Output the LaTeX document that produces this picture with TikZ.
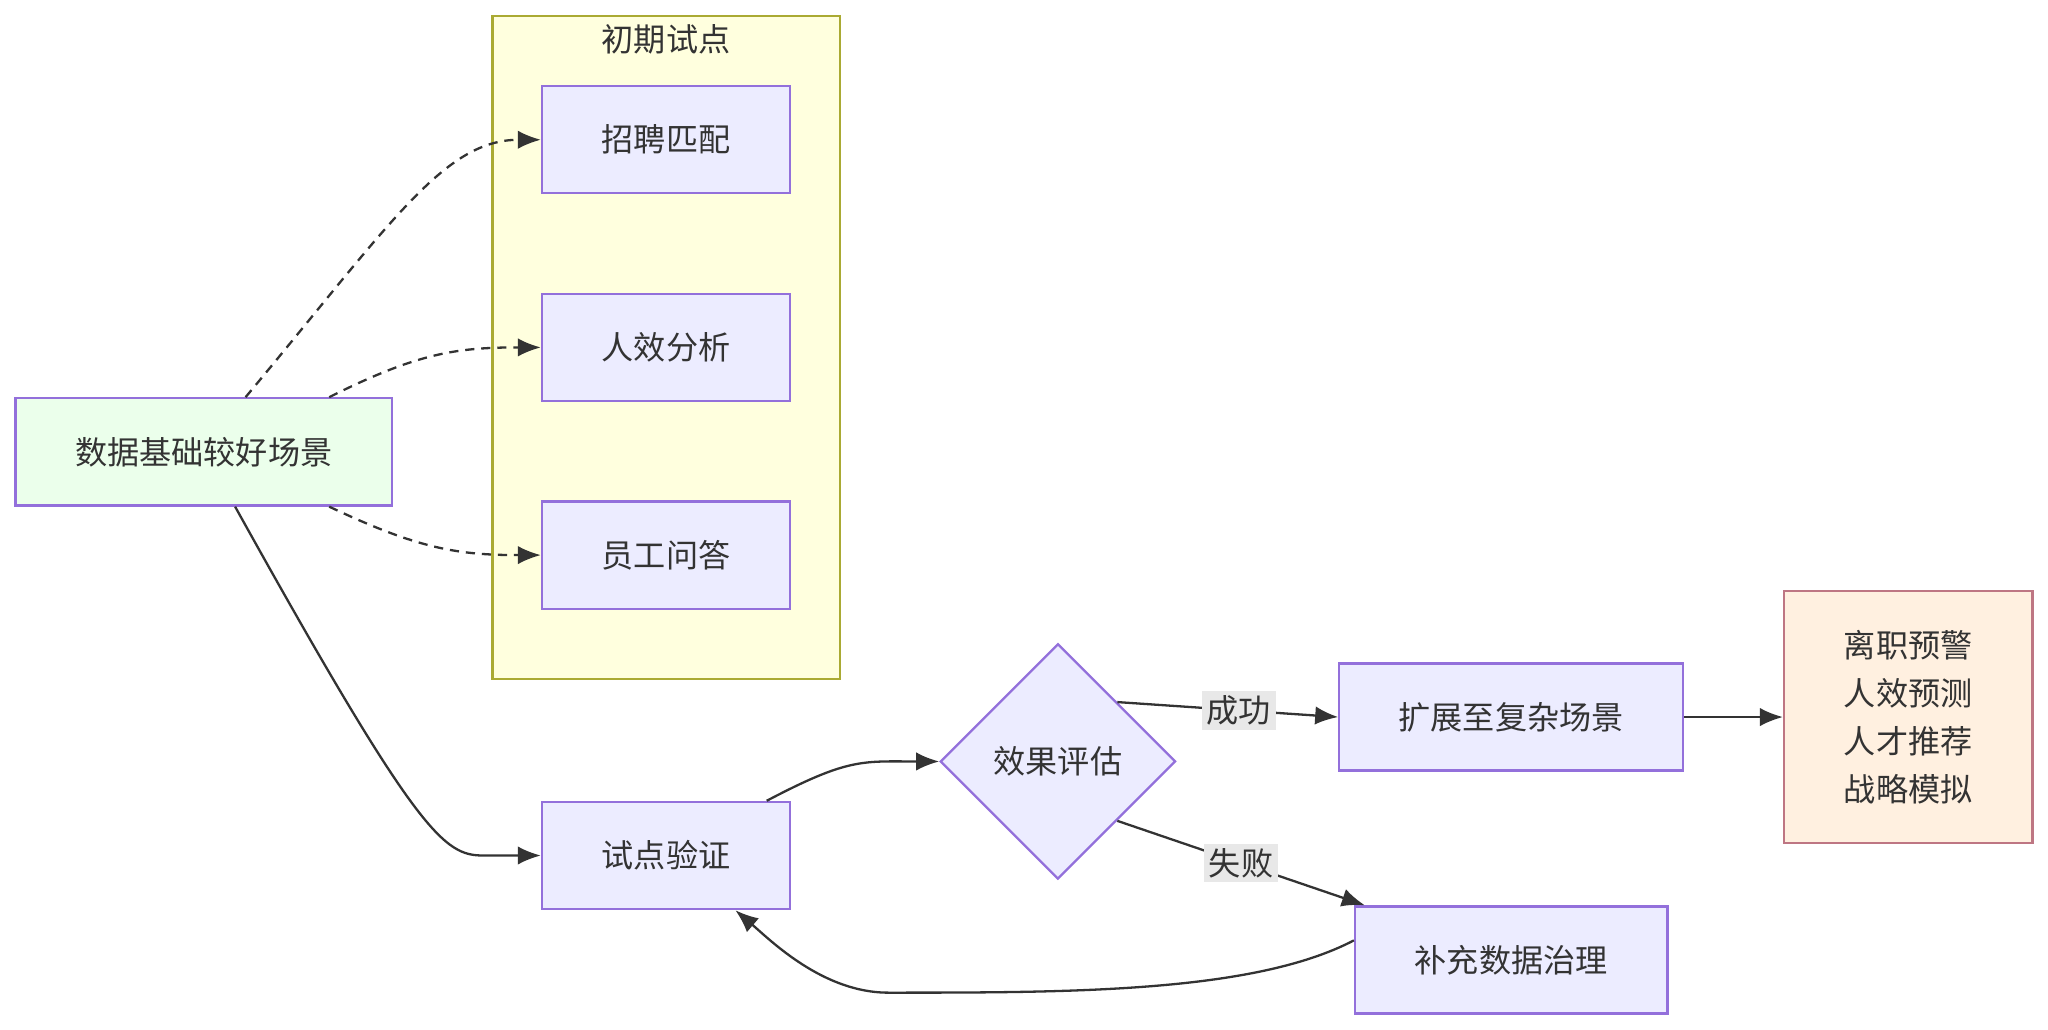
\documentclass[tikz,border=0pt]{standalone}
\usepackage{fontspec}
\setmainfont{Noto Sans CJK SC}
\usetikzlibrary{arrows.meta,shapes.geometric}
\definecolor{boxfill}{HTML}{ECECFF}
\definecolor{boxline}{HTML}{9370DB}
\definecolor{grpfill}{HTML}{FFFFDE}
\definecolor{grpline}{HTML}{AAAA33}
\definecolor{edge}{HTML}{333333}
\definecolor{lblfill}{HTML}{E8E8E8}

\begin{document}
\begin{tikzpicture}
	[x=0.01cm, y=-0.01cm,
	 every node/.style={font=\fontsize{7}{9}\selectfont, text=edge},
	 task/.style={draw=boxline,fill=boxfill,line width=0.5pt,minimum width=1.9cm,minimum height=0.82cm,inner sep=0pt},
	 check/.style={draw=boxline,fill=boxfill,line width=0.5pt,diamond,minimum width=1.8cm,minimum height=1.8cm,inner sep=0pt},
	 lbl/.style={fill=lblfill,inner sep=1pt},
	 flow/.style={draw=edge,line width=0.5pt,-{Latex[length=5pt,width=4pt]}},
	 pilot/.style={flow,dash pattern=on 2pt off 1.5pt}]

\useasboundingbox (0,0) rectangle (1568,788);

% group
\draw [fill=grpfill,draw=grpline,line width=0.5pt] (377,12) rectangle (643,520);
\node (grptitle) at (510,30) {初期试点};

\node [task,fill=green!8,minimum width=2.88cm] (data) at (156,346) {数据基础较好场景};
\node [task] (hire) at (510,107) {招聘匹配};
\node [task] (eff) at (510,266) {人效分析};
\node [task] (qa) at (510,425) {员工问答};
\node [task] (verify) at (510,655) {试点验证};
\node [check] (eval) at (810,583) {效果评估};
\node [task,minimum width=2.63cm] (expand) at (1157,549) {扩展至复杂场景};
\node [task,minimum width=2.39cm] (govern) at (1157,735) {补充数据治理};
\node [task,fill=orange!12,draw=orange!40!boxline,minimum width=1.9cm,minimum height=1.93cm,align=center,font=\fontsize{7}{10.5}\selectfont] (adv) at (1461,549) {离职预警\\人效预测\\人才推荐\\战略模拟};

% dotted pilot links
\draw [pilot] ([xshift=0.32cm]data.north) .. controls (300,170) and (340,107) .. (hire.west);
\draw [pilot] ([xshift=0.96cm]data.north) .. controls (320,270) and (350,266) .. (eff.west);
\draw [pilot] ([xshift=0.96cm]data.south) .. controls (320,420) and (350,425) .. (qa.west);

% main flow
\draw [flow] ([xshift=0.24cm]data.south) .. controls (320,640) and (340,655) .. (370,655) -- (verify.west);
\draw [flow] ([xshift=0.77cm]verify.north) .. controls (650,580) and (660,583) .. (eval.west);
\draw [flow] (eval.north east) -- node [lbl,pos=0.55] {成功} (expand.west);
\draw [flow] (eval.south east) -- node [lbl,pos=0.5] {失败} ([xshift=-1.12cm]govern.north);
\draw [flow] (expand.east) -- (adv.west);
\draw [flow] ([yshift=0.15cm]govern.west) .. controls (960,760) and (820,760) .. (680,760) .. controls (630,760) and (590,720) .. ([xshift=0.53cm]verify.south);

\end{tikzpicture}
\end{document}
